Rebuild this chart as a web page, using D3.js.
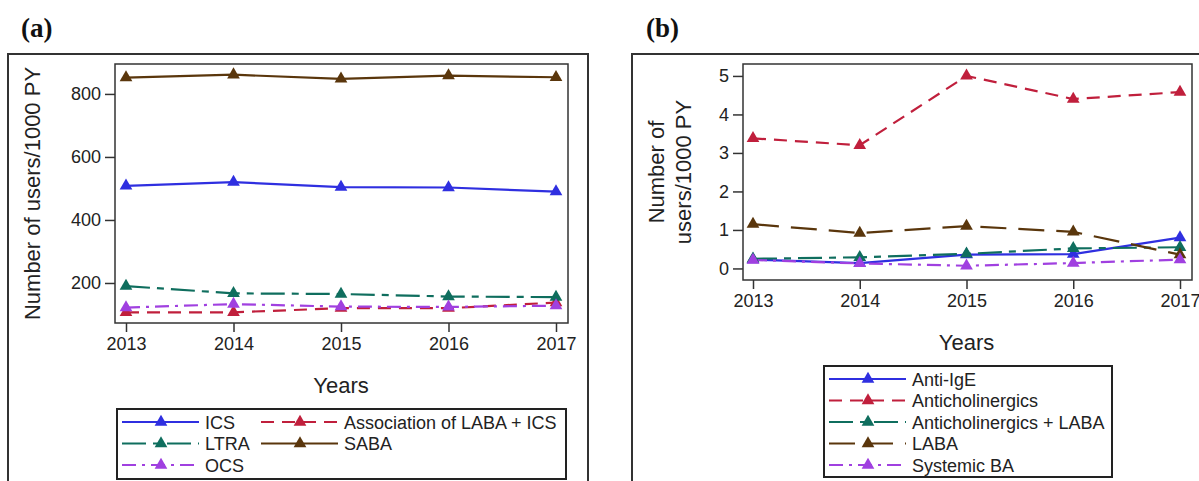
<!DOCTYPE html>
<html>
<head>
<meta charset="utf-8">
<script src="https://cdn.jsdelivr.net/npm/d3@7"></script>
<style>
  body { margin: 0; background: #fff; }
  text { font-family: "Liberation Sans", Arial, sans-serif; fill: #222; }
</style>
</head>
<body>
<div id="chart"></div>
<script>
var years = [2013, 2014, 2015, 2016, 2017];

// panel (a)
var ticks_a = [200, 400, 600, 800];
var ics = [508, 520, 504, 503, 490];
var laba_ics = [107, 107, 120, 120, 138];
var ltra = [190, 167, 165, 157, 155];
var saba = [852, 861, 848, 858, 853];
var ocs = [122, 133, 125, 124, 128];

// panel (b)
var ticks_b = [0, 1, 2, 3, 4, 5];
var anti_ige = [0.23, 0.14, 0.36, 0.37, 0.8];
var anticholinergics = [3.38, 3.2, 5.0, 4.4, 4.58];
var anticho_laba = [0.25, 0.29, 0.38, 0.52, 0.55];
var laba = [1.15, 0.92, 1.1, 0.95, 0.36];
var systemic_ba = [0.22, 0.13, 0.07, 0.14, 0.23];

var c_blue = "#2f2fe0", c_red = "#c01f3c", c_teal = "#0f6e5e",
    c_brown = "#5a360c", c_purple = "#a040e0";

var svg = d3.select("#chart").append("svg")
    .attr("width", 1199)
    .attr("height", 481);

function drawPanel(p) {
    // outer frame
    svg.append("rect")
        .attr("x", p.frame[0]).attr("y", p.frame[1])
        .attr("width", p.frame[2]).attr("height", p.frame[3])
        .attr("fill", "none").attr("stroke", "#333").attr("stroke-width", 2);

    svg.append("text")
        .attr("x", p.labelX).attr("y", 37)
        .style("font-family", "'Liberation Serif', 'Times New Roman', serif")
        .style("font-weight", "bold").style("font-size", "27px")
        .style("fill", "#111")
        .text(p.label);

    var x = d3.scaleLinear().domain([2013, 2017]).range(p.xr);
    var y = d3.scaleLinear().domain(p.yd).range([p.box[3], p.box[1]]);

    var g = svg.append("g");

    g.append("g")
        .attr("transform", "translate(0," + p.box[3] + ")")
        .call(d3.axisBottom(x).tickValues(years).tickFormat(d3.format("d"))
            .tickSizeInner(9).tickSizeOuter(0).tickPadding(5))
        .call(function(a) {
            a.select(".domain").remove();
            a.selectAll("line").attr("stroke", "#333").attr("stroke-width", 1.5);
            a.selectAll("text").style("font-size", "18px").style("fill", "#222");
        });

    g.append("g")
        .attr("transform", "translate(" + p.box[0] + ",0)")
        .call(d3.axisLeft(y).tickValues(p.ticks).tickFormat(d3.format("d"))
            .tickSizeInner(10).tickSizeOuter(0).tickPadding(4))
        .call(function(a) {
            a.select(".domain").remove();
            a.selectAll("line").attr("stroke", "#333").attr("stroke-width", 1.5);
            a.selectAll("text").style("font-size", "18px").style("fill", "#222");
        });

    // plot frame
    g.append("rect")
        .attr("x", p.box[0]).attr("y", p.box[1])
        .attr("width", p.box[2] - p.box[0]).attr("height", p.box[3] - p.box[1])
        .attr("fill", "none").attr("stroke", "#333").attr("stroke-width", 1.5);

    var line = d3.line()
        .x(function(d, i) { return x(years[i]); })
        .y(function(d) { return y(d); });

    p.series.forEach(function(s) {
        g.append("path")
            .datum(s.values)
            .attr("d", line)
            .attr("fill", "none")
            .attr("stroke", s.color)
            .attr("stroke-width", 2.2)
            .attr("stroke-dasharray", s.dash);
    });
    p.series.forEach(function(s) {
        g.selectAll(null)
            .data(s.values)
            .enter().append("path")
            .attr("d", d3.symbol().type(d3.symbolTriangle).size(70))
            .attr("transform", function(d, i) { return "translate(" + x(years[i]) + "," + y(d) + ")"; })
            .attr("fill", s.color);
    });

    // axis titles
    svg.append("text")
        .attr("x", (p.xr[0] + p.xr[1]) / 2).attr("y", p.box[3] + 70)
        .attr("text-anchor", "middle")
        .style("font-size", "22px")
        .text("Years");

    var yt = svg.append("text")
        .attr("transform", "translate(" + p.ytitleX + "," + (p.box[1] + p.box[3]) / 2 + ") rotate(-90)")
        .attr("text-anchor", "middle")
        .style("font-size", "22px");
    p.ytitle.forEach(function(t, i) {
        yt.append("tspan").attr("x", 0).attr("y", i * 27).text(t);
    });

    // legend
    var lg = svg.append("g");
    lg.append("rect")
        .attr("x", p.legend.x).attr("y", p.legend.y)
        .attr("width", p.legend.w).attr("height", p.legend.h)
        .attr("fill", "#fff").attr("stroke", "#222").attr("stroke-width", 2);

    p.series.forEach(function(s, i) {
        var col = i % p.legend.cols, row = Math.floor(i / p.legend.cols);
        var lx = p.legend.x + 5 + col * p.legend.colW;
        var ly = p.legend.y + 13 + row * 21.5;
        lg.append("line")
            .attr("x1", lx).attr("x2", lx + 77)
            .attr("y1", ly).attr("y2", ly)
            .attr("stroke", s.color).attr("stroke-width", 2.2)
            .attr("stroke-dasharray", s.dash);
        lg.append("path")
            .attr("d", d3.symbol().type(d3.symbolTriangle).size(70))
            .attr("transform", "translate(" + (lx + 39) + "," + ly + ")")
            .attr("fill", s.color);
        lg.append("text")
            .attr("x", lx + 83).attr("y", ly + 6.5)
            .style("font-size", "18px")
            .text(s.name);
    });
}

var dash = "13,8", longdashdot = "24,7,7,7", longdash = "26,12", dashdot = "14,6,3,6";

drawPanel({
    label: "(a)", labelX: 21,
    frame: [8, 54, 580, 460],
    box: [115, 64, 568, 323],
    xr: [126, 556],
    yd: [73, 895],
    ticks: ticks_a,
    ytitleX: 40,
    ytitle: ["Number of users/1000 PY"],
    legend: { x: 117, y: 409, w: 449, h: 70, cols: 2, colW: 139 },
    series: [
        { name: "ICS", values: ics, color: c_blue, dash: null },
        { name: "Association of LABA + ICS", values: laba_ics, color: c_red, dash: dash },
        { name: "LTRA", values: ltra, color: c_teal, dash: longdashdot },
        { name: "SABA", values: saba, color: c_brown, dash: null },
        { name: "OCS", values: ocs, color: c_purple, dash: dashdot }
    ]
});

drawPanel({
    label: "(b)", labelX: 646,
    frame: [632, 54, 600, 460],
    box: [743, 64, 1192, 280],
    xr: [753, 1180],
    yd: [-0.3, 5.31],
    ticks: ticks_b,
    ytitleX: 664,
    ytitle: ["Number of", "users/1000 PY"],
    legend: { x: 824, y: 366, w: 288, h: 111, cols: 1, colW: 0 },
    series: [
        { name: "Anti-IgE", values: anti_ige, color: c_blue, dash: null },
        { name: "Anticholinergics", values: anticholinergics, color: c_red, dash: dash },
        { name: "Anticholinergics + LABA", values: anticho_laba, color: c_teal, dash: longdashdot },
        { name: "LABA", values: laba, color: c_brown, dash: longdash },
        { name: "Systemic BA", values: systemic_ba, color: c_purple, dash: dashdot }
    ]
});
</script>
</body>
</html>
